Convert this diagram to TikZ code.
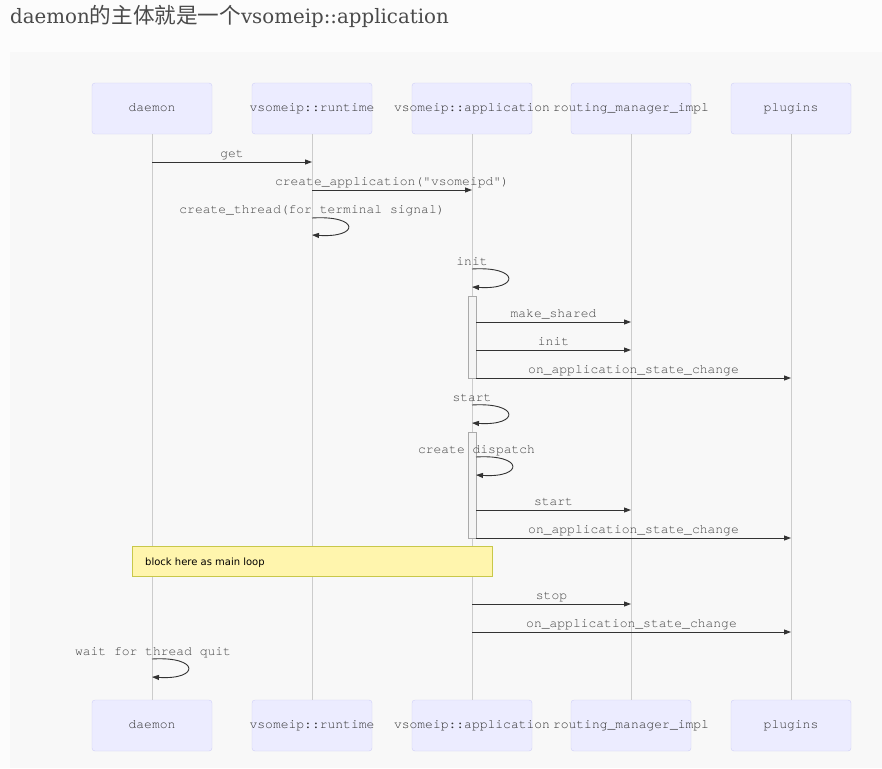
\documentclass[tikz,border=0pt]{standalone}
\usepackage{fontspec}
\setmainfont{DejaVu Serif}
\newfontfamily\cjkf{Noto Sans CJK SC}
\newfontfamily\monof{texgyrecursor-regular.otf}
\newfontfamily\notef{DejaVu Sans}
\usetikzlibrary{arrows.meta}
\definecolor{pagebg}{HTML}{FCFCFC}
\definecolor{panelbg}{HTML}{F8F8F8}
\definecolor{actfill}{HTML}{ECECFF}
\definecolor{actdraw}{HTML}{CFCFF7}
\definecolor{lifec}{HTML}{CCCCCC}
\definecolor{txtc}{HTML}{333333}
\definecolor{lblc}{HTML}{444444}
\definecolor{msgc}{HTML}{333333}
\definecolor{actvfill}{HTML}{F4F4F4}
\definecolor{actvdraw}{HTML}{AAAAAA}
\definecolor{notefill}{HTML}{FFF5AD}
\definecolor{notedraw}{HTML}{C8C84A}
\definecolor{titlec}{HTML}{4A4A4A}
\tikzset{
  actor/.style={draw=actdraw, fill=actfill, rounded corners=3pt, minimum width=120pt,
    minimum height=51pt, inner sep=0pt},
  actortext/.style={inner sep=0pt, text=txtc, text height=8pt, text depth=2.5pt,
    font=\monof\fontsize{13}{15}\selectfont},
  lifeline/.style={draw=lifec, line width=1pt},
  msg/.style={draw=msgc, line width=0.9pt, -{Triangle[length=7pt,width=5pt]}},
  lbl/.style={anchor=base, inner sep=0pt, text=lblc, font=\monof\fontsize{13}{15}\selectfont},
  activ/.style={draw=actvdraw, fill=actvfill, line width=1pt, minimum width=8pt, inner sep=0pt},
  notebox/.style={draw=notedraw, fill=notefill, line width=0.8pt, minimum width=360pt,
    minimum height=30pt, inner sep=0pt},
}
\begin{document}
\begin{tikzpicture}[x=1pt,y=-1pt]
\useasboundingbox (0,0) rectangle (882,768);
\fill[pagebg] (0,0) rectangle (882,768);
\fill[panelbg] (10,52) rectangle (882,768);
% title
\node[anchor=base west, inner sep=0pt, text=titlec, font=\fontsize{19.8}{22}\selectfont] (title) at (10,24)
  {daemon{\cjkf\fontsize{21.6}{22}\selectfont 的主体就是一个}vsomeip::application};
% actors
\foreach \n/\x/\t in {d/152/daemon, r/312/vsomeip::runtime, a/472/vsomeip::application, m/631/routing\_manager\_impl, p/791/plugins}{
  \node[actor] (\n t) at (\x,108.5) {};
  \node[actortext] (\n tt) at (\n t.center) {\t};
  \node[actor] (\n b) at (\x,725.5) {};
  \node[actortext] (\n bt) at (\n b.center) {\t};
  \draw[lifeline] (\n t.south) -- (\n b.north);
}
% activation boxes
\node[activ, minimum height=82pt] (act1) at (472,337) {};
\node[activ, minimum height=106pt] (act2) at (472,485) {};
% coordinates
\coordinate (g1) at (152,162); \coordinate (g2) at (312,162);
\coordinate (c1) at (312,190); \coordinate (c2) at (472,190);
\coordinate (t1) at (312,218); \coordinate (t2) at (312,235);
\coordinate (i1) at (472,269); \coordinate (i2) at (472,287);
\coordinate (ms1) at (476,322); \coordinate (ms2) at (631,322);
\coordinate (in1) at (476,350); \coordinate (in2) at (631,350);
\coordinate (oa1) at (476,378); \coordinate (oa2) at (791,378);
\coordinate (s1) at (472,405); \coordinate (s2) at (472,423);
\coordinate (cd1) at (476,457); \coordinate (cd2) at (476,475);
\coordinate (st1) at (476,510); \coordinate (st2) at (631,510);
\coordinate (ob1) at (476,538); \coordinate (ob2) at (791,538);
\coordinate (sp1) at (472,604); \coordinate (sp2) at (631,604);
\coordinate (oc1) at (472,632); \coordinate (oc2) at (791,632);
\coordinate (w1) at (152,659); \coordinate (w2) at (152,677);
% messages
\draw[msg] (g1) -- (g2);
\node[lbl] (lg) at (232,157) {get};
\draw[msg] (c1) -- (c2);
\node[lbl] (lc) at (392,185) {create\_application("vsomeipd")};
\draw[msg] (t1) .. controls +(48,-3) and +(48,3) .. (t2);
\node[lbl] (lt) at (312,213) {create\_thread(for terminal signal)};
\draw[msg] (i1) .. controls +(48,-3) and +(48,3) .. (i2);
\node[lbl] (li) at (472,265) {init};
\draw[msg] (ms1) -- (ms2);
\node[lbl] (lms) at (553.5,317) {make\_shared};
\draw[msg] (in1) -- (in2);
\node[lbl] (lin) at (553.5,345) {init};
\draw[msg] (oa1) -- (oa2);
\node[lbl] (loa) at (633.5,373) {on\_application\_state\_change};
\draw[msg] (s1) .. controls +(48,-3) and +(48,3) .. (s2);
\node[lbl] (ls) at (472,401) {start};
\draw[msg] (cd1) .. controls +(48,-3) and +(48,3) .. (cd2);
\node[lbl] (lcd) at (476.5,453) {create dispatch};
\draw[msg] (st1) -- (st2);
\node[lbl] (lst) at (553.5,505) {start};
\draw[msg] (ob1) -- (ob2);
\node[lbl] (lob) at (633.5,533) {on\_application\_state\_change};
% note
\node[notebox] (note) at (312,561) {};
\node[anchor=base west, inner sep=0pt, text=black, font=\notef\fontsize{10}{12}\selectfont] (notet) at (145,565) {block here as main loop};
\draw[msg] (sp1) -- (sp2);
\node[lbl] (lsp) at (551.5,599) {stop};
\draw[msg] (oc1) -- (oc2);
\node[lbl] (loc) at (631.5,627) {on\_application\_state\_change};
\draw[msg] (w1) .. controls +(48,-3) and +(48,3) .. (w2);
\node[lbl] (lw) at (153,655) {wait for thread quit};
\end{tikzpicture}
\end{document}
